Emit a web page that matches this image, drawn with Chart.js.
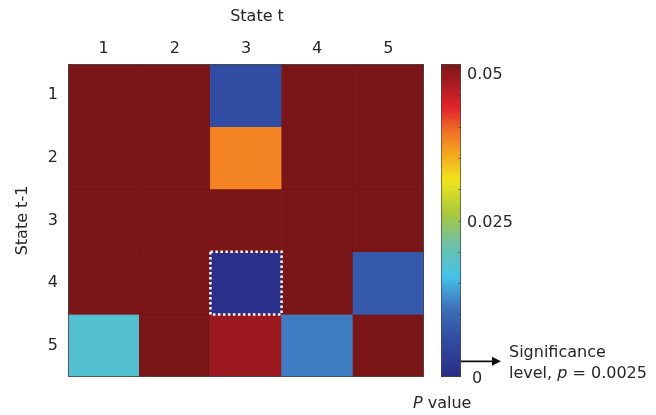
<!DOCTYPE html>
<html>
<head>
<meta charset="utf-8">
<script src="https://cdn.jsdelivr.net/npm/chart.js@4/dist/chart.umd.min.js"></script>
<style>
  html, body { margin: 0; padding: 0; background: #fff; }
  #wrap { position: relative; width: 656px; height: 415px; }
  canvas { position: absolute; left: 0; top: 0; }
</style>
</head>
<body>
<div id="wrap">
  <canvas id="heat" width="656" height="415"></canvas>
  <canvas id="cbar" width="656" height="415"></canvas>
</div>
<script>
// ---- data ----
const stateLabels = ['1', '2', '3', '4', '5'];          // State t (columns) and State t-1 (rows)
const pValues = [                                        // rows: State t-1, columns: State t (clipped at 0.05)
  [0.05,   0.05, 0.0062, 0.05,   0.05],
  [0.05,   0.05, 0.038,  0.05,   0.05],
  [0.05,   0.05, 0.05,   0.05,   0.05],
  [0.05,   0.05, 0.0008, 0.05,   0.0078],
  [0.0178, 0.05, 0.0478, 0.0118, 0.05]
];
const colorbarTicks = [0, 0.025, 0.05];
const colorbarMin = 0;
const colorbarMax = 0.05;
const sigLevel = 0.0025;
const xTitle = 'State t';
const yTitle = 'State t-1';

// ---- colour map (jet-like) ----
const cmapStops = [
  [0.00, '#2a2d86'], [0.12, '#304ca2'], [0.22, '#3d70ba'], [0.32, '#45c2e8'],
  [0.42, '#6cc0ac'], [0.52, '#a8c83c'], [0.63, '#f0e41b'], [0.72, '#f5a11f'],
  [0.79, '#ef6b25'], [0.86, '#e2232a'], [1.00, '#7a1518']
];
function hex2rgb(h) { return [1,3,5].map(i => parseInt(h.substr(i, 2), 16)); }
function colorFor(v) {
  let f = (v - colorbarMin) / (colorbarMax - colorbarMin);
  f = Math.max(0, Math.min(1, f));
  for (let i = 1; i < cmapStops.length; i++) {
    if (f <= cmapStops[i][0]) {
      const [f0, c0] = cmapStops[i - 1], [f1, c1] = cmapStops[i];
      const t = (f - f0) / (f1 - f0);
      const a = hex2rgb(c0), b = hex2rgb(c1);
      return 'rgb(' + a.map((x, k) => Math.round(x + (b[k] - x) * t)).join(',') + ')';
    }
  }
  return cmapStops[cmapStops.length - 1][1];
}

const FONT = "'DejaVu Sans', sans-serif";
const FS = 16;
const TXT = '#262626';

// ---- heat map ----
const heatDatasets = pValues.map((row, r) => ({
  label: 'State t-1 = ' + stateLabels[r],
  data: row.map(() => [r + 0.5, r + 1.5]),
  backgroundColor: row.map(colorFor),
  borderColor: row.map(colorFor),
  borderWidth: 0.5,
  borderSkipped: false,
  grouped: false,
  barPercentage: 1,
  categoryPercentage: 1
}));

const heatDecor = {
  id: 'heatDecor',
  afterDatasetsDraw(chart) {
    const { ctx, chartArea: a, scales: { x, y } } = chart;
    ctx.save();
    // plot frame
    ctx.strokeStyle = 'rgba(70,70,70,0.8)';
    ctx.lineWidth = 1;
    ctx.strokeRect(a.left + 0.5, a.top + 0.5, a.width - 1, a.height - 1);
    // dotted white outline around cells below the significance level
    const cw = (a.right - a.left) / stateLabels.length;
    ctx.strokeStyle = '#fff';
    ctx.lineWidth = 2.5;
    ctx.setLineDash([2.5, 2.5]);
    pValues.forEach((row, r) => row.forEach((p, c) => {
      if (p < sigLevel) {
        const cx = x.getPixelForValue(c);
        const y0 = y.getPixelForValue(r + 0.5), y1 = y.getPixelForValue(r + 1.5);
        ctx.strokeRect(cx - cw / 2, y0, cw, y1 - y0);
      }
    }));
    ctx.setLineDash([]);
    // top axis title (sits slightly right of centre in the original)
    ctx.fillStyle = TXT;
    ctx.font = FS + 'px ' + FONT;
    ctx.textAlign = 'center';
    ctx.textBaseline = 'middle';
    ctx.fillText(xTitle, (a.left + a.right) / 2 + 11, 17);
    ctx.restore();
  }
};

new Chart(document.getElementById('heat'), {
  type: 'bar',
  data: { labels: stateLabels, datasets: heatDatasets },
  options: {
    responsive: false,
    animation: false,
    layout: { padding: { left: 0, top: 0, right: 232, bottom: 38 } },
    plugins: { legend: { display: false }, tooltip: { enabled: false } },
    scales: {
      x: {
        position: 'top',
        offset: true,
        grid: { display: false, drawTicks: false },
        border: { display: false },
        ticks: { color: TXT, font: { family: FONT, size: FS }, padding: 6 },
        title: { display: false, text: xTitle },
        afterFit(s) { s.height = 64; }
      },
      y: {
        type: 'linear',
        reverse: true,
        min: 0.5,
        max: stateLabels.length + 0.5,
        grid: { display: false, drawTicks: false },
        border: { display: false },
        afterBuildTicks(s) { s.ticks = stateLabels.map((_, i) => ({ value: i + 1 })); },
        ticks: {
          color: TXT, font: { family: FONT, size: FS }, padding: 10,
          callback: (v) => stateLabels[Math.round(v) - 1]
        },
        title: { display: true, text: yTitle, color: TXT, font: { family: FONT, size: FS }, padding: { top: 13, bottom: 0 } },
        afterFit(s) { s.width = 68; }
      }
    }
  },
  plugins: [heatDecor]
});

// ---- colour bar ----
const cbDecor = {
  id: 'cbDecor',
  afterDatasetsDraw(chart) {
    const { ctx, chartArea: a, scales: { y } } = chart;
    ctx.save();
    ctx.strokeStyle = 'rgba(70,70,70,0.7)';
    ctx.lineWidth = 1;
    ctx.strokeRect(a.left + 0.5, a.top + 0.5, a.width - 1, a.height - 1);
    // minor ticks on the right edge
    ctx.strokeStyle = 'rgba(40,40,40,0.45)';
    for (let v = colorbarMin + 0.005; v < colorbarMax - 1e-9; v += 0.005) {
      const py = Math.round(y.getPixelForValue(v)) + 0.5;
      ctx.beginPath(); ctx.moveTo(a.right - 3, py); ctx.lineTo(a.right, py); ctx.stroke();
    }
    // tick labels
    ctx.fillStyle = TXT;
    ctx.font = FS + 'px ' + FONT;
    ctx.textAlign = 'left';
    ctx.textBaseline = 'middle';
    colorbarTicks.forEach(v => {
      let py = y.getPixelForValue(v) + 2;
      py = Math.max(py, a.top + 11);
      ctx.fillText(String(v), a.right + (v === 0 ? 11 : 6), py);
    });
    // significance arrow
    const sy = y.getPixelForValue(sigLevel);
    const x0 = a.right, x1 = a.right + 40;
    ctx.strokeStyle = '#111';
    ctx.fillStyle = '#111';
    ctx.lineWidth = 1.6;
    ctx.beginPath(); ctx.moveTo(x0, sy); ctx.lineTo(x1 - 6, sy); ctx.stroke();
    ctx.beginPath(); ctx.moveTo(x1, sy); ctx.lineTo(x1 - 9, sy - 4.5); ctx.lineTo(x1 - 9, sy + 4.5); ctx.closePath(); ctx.fill();
    // significance text
    ctx.fillStyle = TXT;
    const tx = a.right + 48;
    ctx.fillText('Significance', tx, sy - 9);
    let s1 = 'level, ';
    ctx.fillText(s1, tx, sy + 12);
    let cx = tx + ctx.measureText(s1).width;
    ctx.font = 'italic ' + FS + 'px ' + FONT;
    ctx.fillText('p', cx, sy + 12);
    cx += ctx.measureText('p').width;
    ctx.font = FS + 'px ' + FONT;
    ctx.fillText(' = ' + sigLevel, cx, sy + 12);
    // colour bar title
    const by = a.bottom + 27;
    let px = a.left - 28;
    ctx.font = 'italic ' + FS + 'px ' + FONT;
    ctx.fillText('P', px, by);
    px += ctx.measureText('P').width;
    ctx.font = FS + 'px ' + FONT;
    ctx.fillText(' value', px, by);
    ctx.restore();
  }
};

new Chart(document.getElementById('cbar'), {
  type: 'bar',
  data: {
    labels: [''],
    datasets: [{
      label: 'P value',
      data: [[colorbarMin, colorbarMax]],
      borderWidth: 0,
      barPercentage: 1,
      categoryPercentage: 1,
      backgroundColor(ctx) {
        const a = ctx.chart.chartArea;
        if (!a) return '#7a1518';
        const g = ctx.chart.ctx.createLinearGradient(0, a.bottom, 0, a.top);
        cmapStops.forEach(([f, c]) => g.addColorStop(f, c));
        return g;
      }
    }]
  },
  options: {
    responsive: false,
    animation: false,
    layout: { padding: { left: 441, top: 64, right: 195, bottom: 38 } },
    plugins: { legend: { display: false }, tooltip: { enabled: false } },
    scales: {
      x: { display: false },
      y: {
        display: false,
        min: colorbarMin,
        max: colorbarMax
      }
    }
  },
  plugins: [cbDecor]
});
</script>
</body>
</html>
